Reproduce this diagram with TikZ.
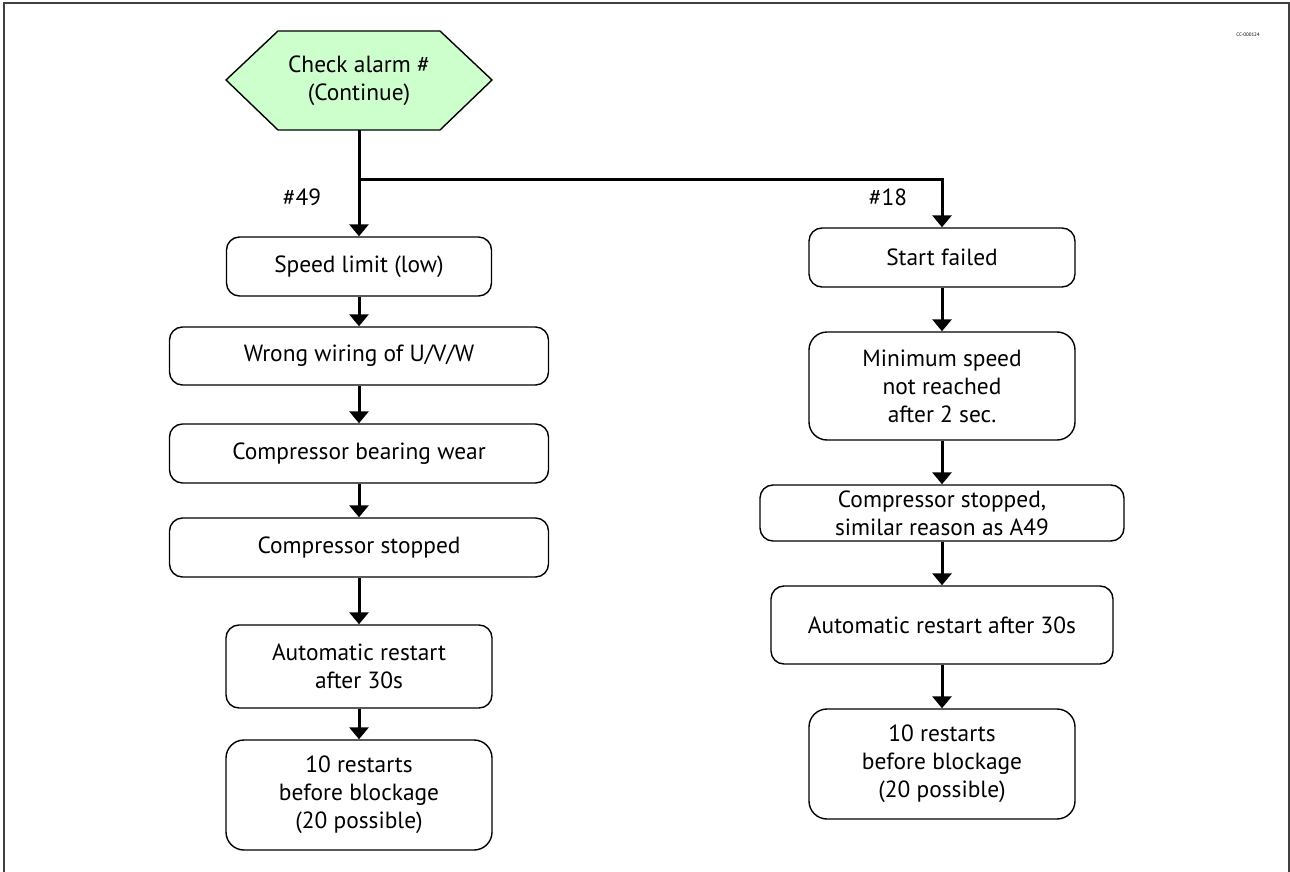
\documentclass[tikz,border=0pt]{standalone}
\usepackage{fontspec}
\setmainfont{PT Sans}
\usetikzlibrary{arrows.meta}
\definecolor{hexgreen}{HTML}{CCFFCC}
\begin{document}
\begin{tikzpicture}[x=0.5pt,y=-0.5pt,
  box/.style={draw, line width=0.7pt, rounded corners=6.5pt, align=center,
    inner sep=0pt, font=\fontsize{11.7}{14}\selectfont},
  tallbox/.style={box, rounded corners=9pt},
  arr/.style={line width=1.5pt, -{Triangle[length=6pt,width=9.5pt]}},
  lbl/.style={inner sep=0pt, font=\fontsize{11.7}{14}\selectfont},
  frame/.style={draw=black!75, line width=1pt}]
\useasboundingbox (0,0) rectangle (1290,872);
\draw[frame] (4,880) -- (4,3) -- (1289,3) -- (1289,880);
\node[inner sep=0pt, font=\fontsize{2.5}{3}\selectfont] (cc) at (1248,35) {CC-000124};
% hexagon
\draw[fill=hexgreen, line width=0.7pt] (226,80) -- (278,31) -- (440,31) -- (492,80) -- (440,130) -- (278,130) -- cycle;
\node[lbl, align=center, minimum width=133pt, minimum height=49.5pt] (hex) at (359,80.5) {Check alarm \#\\(Continue)};
% left column
\node[box, minimum width=132.5pt, minimum height=29.5pt] (L1) at (359,266.5) {Speed limit (low)};
\node[box, minimum width=189.5pt, minimum height=29pt] (L2) at (359,356) {Wrong wiring of U/V/W};
\node[box, minimum width=189.5pt, minimum height=29.5pt] (L3) at (359,453.5) {Compressor bearing wear};
\node[box, minimum width=189.5pt, minimum height=29.5pt] (L4) at (359,547.5) {Compressor stopped};
\node[box, minimum width=133pt, minimum height=41.5pt] (L5) at (359,666.5) {Automatic restart\\after 30s};
\node[tallbox, minimum width=133pt, minimum height=55pt] (L6) at (359,795) {10 restarts\\before blockage\\(20 possible)};
% right column
\node[box, minimum width=133pt, minimum height=29.5pt] (R1) at (942,257.5) {Start failed};
\node[tallbox, minimum width=133pt, minimum height=54pt] (R2) at (942,386) {Minimum speed\\not reached\\after 2 sec.};
\node[box, minimum width=182pt, minimum height=28pt] (R3) at (942,513) {Compressor stopped,\\similar reason as A49};
\node[box, minimum width=171pt, minimum height=39pt] (R4) at (942,625) {Automatic restart after 30s};
\node[tallbox, minimum width=133pt, minimum height=55pt] (R5) at (942,764) {10 restarts\\before blockage\\(20 possible)};
% labels
\node[lbl] (n49) at (302,197) {\#49};
\node[lbl] (n18) at (888,197) {\#18};
% connectors
\coordinate (br) at (359,179);
\draw[arr] (hex.south) -- (L1.north);
\draw[arr] (br) -| (R1.north);
\draw[arr] (L1) -- (L2);
\draw[arr] (L2) -- (L3);
\draw[arr] (L3) -- (L4);
\draw[arr] (L4) -- (L5);
\draw[arr] (L5) -- (L6);
\draw[arr] (R1) -- (R2);
\draw[arr] (R2) -- (R3);
\draw[arr] (R3) -- (R4);
\draw[arr] (R4) -- (R5);
\end{tikzpicture}
\end{document}
